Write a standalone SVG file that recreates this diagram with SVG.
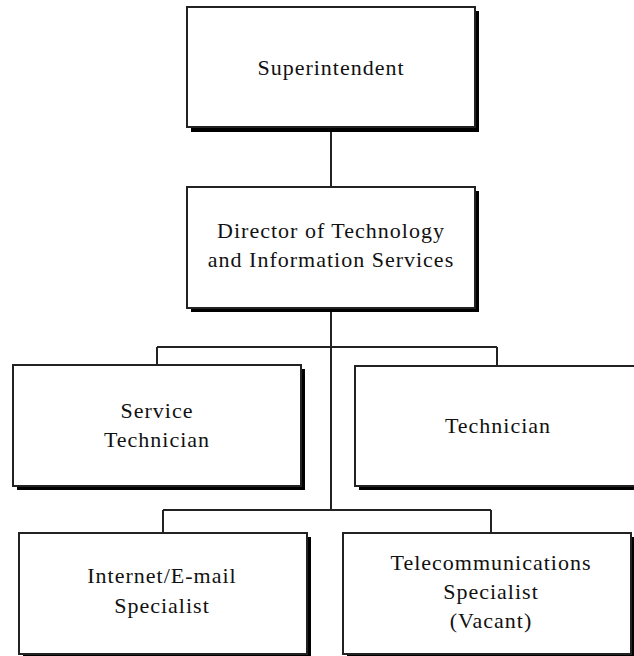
<svg xmlns="http://www.w3.org/2000/svg" width="634" height="656" viewBox="0 0 634 656">
<style>
.shadow{fill:#000}
.box{fill:#fff;stroke:#222;stroke-width:2}
.lbl{font-family:"Liberation Serif","Times New Roman",serif;font-size:22px;letter-spacing:1px;fill:#111;text-anchor:middle}
.conn{stroke:#222;stroke-width:2;fill:none}
</style>
<rect width="634" height="656" fill="#fff"/>
<g id="connectors">
<path class="conn" d="M331 127V187M331 308V510M157 347H497M157 347V365M497 347V366M163 510H491M163 510V533M491 510V533"/>
</g>
<g id="superintendent">
<rect class="shadow" x="191" y="11" width="288" height="121"/>
<rect class="box" x="187" y="7" width="288" height="120"/>
<text class="lbl" x="331" y="75">Superintendent</text>
</g>
<g id="director">
<rect class="shadow" x="191" y="191" width="288" height="121"/>
<rect class="box" x="187" y="187" width="288" height="121"/>
<text class="lbl" x="331" y="238">Director of Technology</text>
<text class="lbl" x="331" y="267">and Information Services</text>
</g>
<g id="service-technician">
<rect class="shadow" x="17" y="369" width="288" height="121"/>
<rect class="box" x="13" y="365" width="288" height="121"/>
<text class="lbl" x="157" y="418">Service</text>
<text class="lbl" x="157" y="447">Technician</text>
</g>
<g id="technician">
<rect class="shadow" x="359" y="370" width="288" height="120"/>
<rect class="box" x="355" y="366" width="288" height="120"/>
<text class="lbl" x="498" y="433">Technician</text>
</g>
<g id="internet-specialist">
<rect class="shadow" x="23" y="537" width="288" height="121"/>
<rect class="box" x="19" y="533" width="288" height="121"/>
<text class="lbl" x="162" y="583">Internet/E-mail</text>
<text class="lbl" x="162" y="613">Specialist</text>
</g>
<g id="telecom-specialist">
<rect class="shadow" x="347" y="537" width="288" height="121"/>
<rect class="box" x="343" y="533" width="288" height="121"/>
<text class="lbl" x="491" y="570">Telecommunications</text>
<text class="lbl" x="491" y="599">Specialist</text>
<text class="lbl" x="491" y="628">(Vacant)</text>
</g>
</svg>
